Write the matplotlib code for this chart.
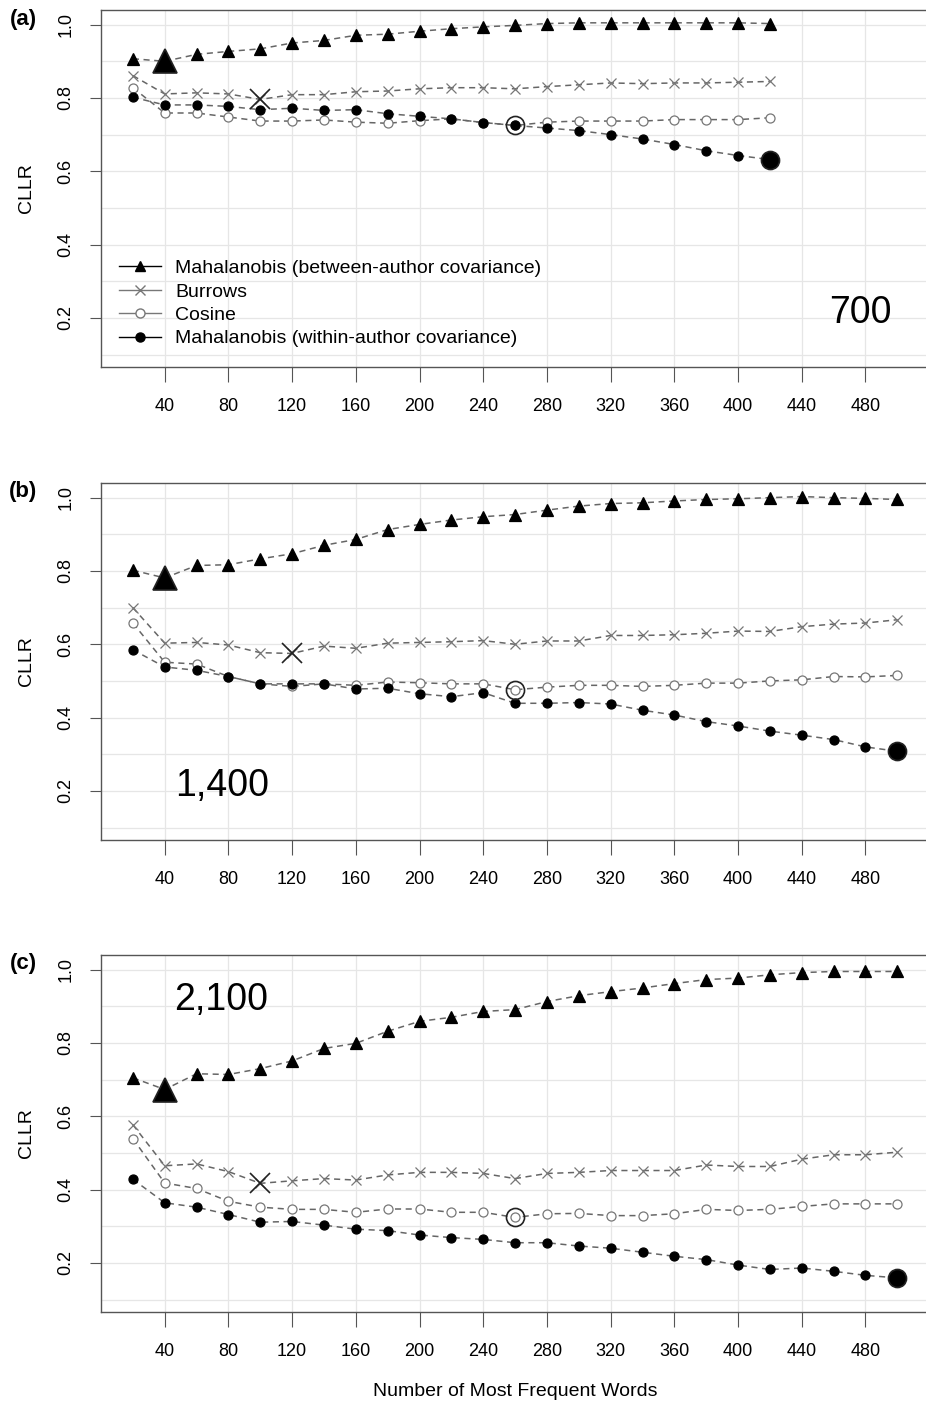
import matplotlib
matplotlib.use("Agg")
import matplotlib.pyplot as plt
from matplotlib.lines import Line2D

# number of most frequent words
mfw_a = [20, 40, 60, 80, 100, 120, 140, 160, 180, 200, 220, 240, 260, 280, 300, 320, 340, 360, 380, 400, 420]
mfw_bc = mfw_a + [440, 460, 480, 500]

# panel (a) 700
between_a = [0.907, 0.900, 0.919, 0.927, 0.934, 0.950, 0.957, 0.971, 0.974, 0.982, 0.989, 0.994, 0.998,
             1.003, 1.005, 1.005, 1.005, 1.005, 1.005, 1.005, 1.003]
burrows_a = [0.861, 0.811, 0.814, 0.811, 0.796, 0.809, 0.809, 0.817, 0.819, 0.825, 0.828, 0.828, 0.825,
             0.831, 0.836, 0.841, 0.839, 0.841, 0.841, 0.843, 0.845]
cosine_a = [0.828, 0.759, 0.759, 0.748, 0.737, 0.737, 0.740, 0.734, 0.731, 0.738, 0.743, 0.733, 0.725,
            0.734, 0.737, 0.737, 0.737, 0.741, 0.741, 0.741, 0.746]
within_a = [0.802, 0.781, 0.781, 0.777, 0.768, 0.772, 0.766, 0.768, 0.757, 0.750, 0.743, 0.733, 0.725,
            0.718, 0.711, 0.700, 0.688, 0.673, 0.656, 0.643, 0.632]

# panel (b) 1,400
between_b = [0.802, 0.781, 0.815, 0.817, 0.833, 0.847, 0.870, 0.886, 0.913, 0.927, 0.939, 0.948, 0.954,
             0.966, 0.977, 0.984, 0.986, 0.991, 0.995, 0.997, 1.000, 1.003, 1.000, 0.998, 0.995]
burrows_b = [0.700, 0.603, 0.605, 0.598, 0.577, 0.575, 0.595, 0.589, 0.603, 0.605, 0.607, 0.610, 0.600,
             0.609, 0.609, 0.624, 0.624, 0.626, 0.630, 0.636, 0.635, 0.648, 0.655, 0.658, 0.667]
cosine_b = [0.658, 0.551, 0.546, 0.512, 0.492, 0.485, 0.492, 0.488, 0.497, 0.495, 0.492, 0.492, 0.476,
            0.483, 0.488, 0.488, 0.485, 0.488, 0.494, 0.494, 0.500, 0.503, 0.512, 0.511, 0.515]
within_b = [0.585, 0.538, 0.529, 0.512, 0.492, 0.492, 0.492, 0.478, 0.480, 0.465, 0.457, 0.468, 0.439,
            0.439, 0.441, 0.437, 0.420, 0.407, 0.389, 0.377, 0.363, 0.352, 0.340, 0.320, 0.308]

# panel (c) 2,100
between_c = [0.705, 0.673, 0.716, 0.714, 0.730, 0.751, 0.785, 0.799, 0.832, 0.859, 0.870, 0.886, 0.891,
             0.913, 0.929, 0.940, 0.950, 0.962, 0.973, 0.977, 0.986, 0.992, 0.995, 0.995, 0.995]
burrows_c = [0.577, 0.465, 0.470, 0.449, 0.417, 0.424, 0.430, 0.426, 0.440, 0.447, 0.447, 0.444, 0.430,
             0.444, 0.447, 0.452, 0.452, 0.452, 0.467, 0.463, 0.463, 0.483, 0.495, 0.495, 0.502]
cosine_c = [0.539, 0.418, 0.403, 0.368, 0.352, 0.346, 0.346, 0.338, 0.347, 0.347, 0.338, 0.338, 0.324,
            0.334, 0.335, 0.329, 0.329, 0.334, 0.346, 0.343, 0.346, 0.354, 0.361, 0.361, 0.361]
within_c = [0.428, 0.364, 0.352, 0.332, 0.311, 0.313, 0.303, 0.292, 0.288, 0.276, 0.269, 0.264, 0.255,
            0.255, 0.246, 0.240, 0.229, 0.218, 0.209, 0.194, 0.182, 0.186, 0.177, 0.166, 0.159]

legend_labels = ["Mahalanobis (between-author covariance)", "Burrows", "Cosine",
                 "Mahalanobis (within-author covariance)"]

# best point of each series (x value) per panel
best_a = [40, 100, 260, 420]
best_b = [40, 120, 260, 500]
best_c = [40, 100, 260, 500]

panel_letters = ["(a)", "(b)", "(c)"]
panel_sizes = ["700", "1,400", "2,100"]
size_pos = [(0.92, 0.15), (0.147, 0.15), (0.145, 0.874)]

xticks = [40, 80, 120, 160, 200, 240, 280, 320, 360, 400, 440, 480]
yticks = [0.2, 0.4, 0.6, 0.8, 1.0]

plt.rcParams["font.family"] = ["Liberation Sans", "DejaVu Sans"]

# style per series
styles = [
    dict(marker="^", color="black", ms=8.5, big=17, mfc="black"),
    dict(marker="x", color="#777777", ms=7.5, big=15, mfc="none"),
    dict(marker="o", color="#777777", ms=6.5, big=13, mfc="none"),
    dict(marker="o", color="black", ms=6.5, big=13, mfc="black"),
]

fig = plt.figure(figsize=(9.26, 14.07), dpi=100)
tops = [10, 483, 955]
panels = [
    (mfw_a, [between_a, burrows_a, cosine_a, within_a], best_a),
    (mfw_bc, [between_b, burrows_b, cosine_b, within_b], best_b),
    (mfw_bc, [between_c, burrows_c, cosine_c, within_c], best_c),
]

for i, (xs, series, best) in enumerate(panels):
    top = tops[i]
    ax = fig.add_axes([101 / 926, 1 - (top + 357) / 1407, 1 - 101 / 926, 357 / 1407])
    ax.set_xlim(0, 518)
    ax.set_ylim(0.066, 1.04)
    for y in [0.1, 0.2, 0.3, 0.4, 0.5, 0.6, 0.7, 0.8, 0.9, 1.0]:
        ax.axhline(y, color="#e6e6e6", lw=0.9, zorder=0)
    for x in xticks:
        ax.axvline(x, color="#e6e6e6", lw=0.9, zorder=0)

    for ys, st, bx in zip(series, styles, best):
        ax.plot(xs, ys, color="#666666", lw=1.1, ls=(0, (4, 3)), zorder=2)
        ax.plot(xs, ys, ls="none", marker=st["marker"], ms=st["ms"], color=st["color"],
                mfc=st["mfc"] if st["mfc"] != "none" else "white", mec=st["color"], mew=0.9, zorder=3)
        j = xs.index(bx)
        ax.plot([bx], [ys[j]], ls="none", marker=st["marker"], ms=st["big"], color="#222222",
                mfc=st["mfc"] if st["mfc"] == "none" else "black", mec="#222222", mew=1.2, zorder=4)

    ax.set_xticks(xticks)
    ax.set_xticklabels([str(t) for t in xticks], fontsize=13)
    ax.set_yticks(yticks)
    ax.set_yticklabels(["0.2", "0.4", "0.6", "0.8", "1.0"], rotation=90, va="center", fontsize=13)
    ax.tick_params(axis="x", length=11, width=0.8, color="#555555", pad=11)
    ax.tick_params(axis="y", length=8, width=0.8, color="#555555", pad=11)
    for s in ["left", "bottom", "top"]:
        ax.spines[s].set_color("#555555")
        ax.spines[s].set_linewidth(1.0)
    ax.spines["right"].set_visible(False)
    ax.set_ylabel("CLLR", fontsize=14, labelpad=16)

    fig.text(23 / 926, 1 - (top + 9) / 1407, panel_letters[i], fontsize=16, fontweight="bold",
             ha="center", va="center")
    ax.text(size_pos[i][0], size_pos[i][1], panel_sizes[i], transform=ax.transAxes,
            fontsize=27, ha="center", va="center")

    if i == 0:
        handles = []
        for st in styles:
            handles.append(Line2D([0], [0], color=st["color"], lw=1.0, marker=st["marker"], ms=6.5,
                                  mfc=st["mfc"] if st["mfc"] != "none" else "white", mec=st["color"]))
        ax.legend(handles, legend_labels, loc="upper left", bbox_to_anchor=(0.0, 0.35),
                  frameon=False, prop={"size": 14}, handlelength=2.2,
                  labelspacing=0.3, handletextpad=0.7)

fig.text(515 / 926, 1 - 1392 / 1407, "Number of Most Frequent Words", fontsize=14,
         ha="center", va="center")

fig.savefig("out.png", dpi=100)
